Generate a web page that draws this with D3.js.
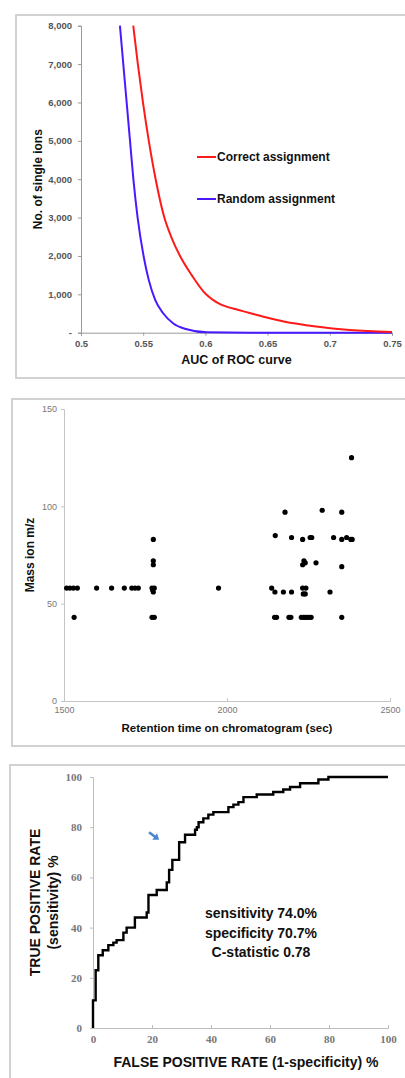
<!DOCTYPE html>
<html>
<head>
<meta charset="utf-8">
<script src="https://cdn.jsdelivr.net/npm/d3@7"></script>
<style>
  body { margin: 0; background: #fff; }
  svg { display: block; }
  .frame { fill: none; stroke: #d2d2d2; stroke-width: 2; }
  .axis1 path, .axis1 line { stroke: #9a9a9a; }
  .axis1 text { fill: #555; font: bold 9.5px "Liberation Sans", Arial, sans-serif; }
  .axis2 path, .axis2 line { stroke: #c4c4c4; }
  .axis2 text { fill: #777; font: 9px "Liberation Sans", Arial, sans-serif; }
  .axis3 path, .axis3 line { stroke: #bdbdbd; }
  .axis3 text { fill: #777; font: bold 11px "Liberation Serif", "Times New Roman", serif; }
  .title { font-family: "Liberation Sans", Arial, sans-serif; font-weight: bold; fill: #111; }
</style>
</head>
<body>
<div id="chart"></div>
<script>
// ---- panel 1: number of single ions vs AUC ----
var correctAuc = [0.5420, 0.5457, 0.5498, 0.5545, 0.5600, 0.5670, 0.5725, 0.5796, 0.5890, 0.6005, 0.6055, 0.6110, 0.6170, 0.6260, 0.6370, 0.6460, 0.6630, 0.6890, 0.7160, 0.75];
var correctIons = [8000, 7000, 6000, 5000, 4000, 3000, 2500, 2000, 1500, 1000, 870, 760, 680, 600, 500, 420, 290, 160, 70, 15];
var randomAuc = [0.5313, 0.5340, 0.5367, 0.5394, 0.5421, 0.5455, 0.5503, 0.5545, 0.5597, 0.5662, 0.5742, 0.5850, 0.6010, 0.65, 0.75];
var randomIons = [8000, 7000, 6000, 5000, 4000, 3000, 2000, 1370, 850, 500, 240, 90, 10, 0, 0];
var aucTicks = [0.5, 0.55, 0.6, 0.65, 0.7, 0.75];
var ionTicks = [0, 1000, 2000, 3000, 4000, 5000, 6000, 7000, 8000];
var legendNames = ["Correct assignment", "Random assignment"];
var legendColours = ["#ff1a1a", "#4a1aff"];

// ---- panel 2: mass ion vs retention time ----
var retention = [1508, 1518, 1529, 1541, 1531, 1600, 1646, 1685, 1708, 1718, 1728,
  1770, 1777, 1774, 1772, 1770, 1777, 1774, 1774, 1774, 1974,
  2137, 2147, 2173, 2198, 2146, 2152, 2190, 2196, 2148, 2178, 2198,
  2228, 2235, 2240, 2246, 2252, 2258, 2232, 2242, 2234, 2240,
  2232, 2236, 2240, 2232, 2273, 2255, 2260, 2292, 2316, 2327,
  2352, 2352, 2352, 2352, 2367, 2380, 2384, 2382];
var massIon = [58, 58, 58, 58, 43, 58, 58, 58, 58, 58, 58,
  58, 58, 56, 57, 43, 43, 70, 72, 83, 58,
  58, 56, 56, 56, 43, 43, 43, 43, 85, 97, 84,
  43, 43, 43, 43, 43, 43, 58, 58, 55, 55,
  70, 72, 71, 83, 71, 84, 84, 98, 56, 84,
  97, 83, 69, 43, 84, 83, 83, 125];
var timeTicks = [1500, 2000, 2500];
var massTicks = [0, 50, 100, 150];

// ---- panel 3: ROC curve ----
var fpr = [0, 0, 0.9, 1.8, 3.3, 5.2, 6.9, 8.0, 10.3, 11.4, 14.2, 18.2, 18.8, 21.6, 25.0, 25.8, 26.9, 29.2, 31.2, 34.6, 35.2, 35.8, 37.4, 39.1, 40.8, 45.9, 47.6, 49.3, 51.0, 55.5, 61.1, 64.5, 66.8, 70.2, 76.4, 79.8, 100];
var tpr = [0, 11, 23, 29, 31, 33, 34, 35, 38, 40, 44, 46, 53, 55, 58, 63, 67, 74, 77, 79, 80, 82, 83.5, 85, 86, 88, 89, 90, 92, 93, 94, 95, 96, 97.5, 99, 100, 100];
var rateTicks = [0, 20, 40, 60, 80, 100];
var statLines = ["sensitivity 74.0%", "specificity 70.7%", "C-statistic 0.78"];
var arrowFrom = [19.0, 78.0];
var arrowTo = [22.4, 75.0];

var width = 405, height = 1078;

var svg = d3.select("#chart")
    .append("svg")
    .attr("width", width)
    .attr("height", height);

// panel frames
svg.append("rect").attr("class", "frame").attr("x", 16).attr("y", 15).attr("width", 400).attr("height", 363);
svg.append("rect").attr("class", "frame").attr("x", 12).attr("y", 399).attr("width", 404).attr("height", 347);
svg.append("rect").attr("class", "frame").attr("x", 10).attr("y", 765).attr("width", 406).attr("height", 320);

// ================= panel 1 =================
var x1 = d3.scaleLinear().domain([0.5, 0.75]).range([81, 392]);
var y1 = d3.scaleLinear().domain([0, 8000]).range([332.7, 25.7]);

svg.append("g")
    .attr("class", "axis1")
    .attr("transform", "translate(0," + y1(0) + ")")
    .call(d3.axisBottom(x1).tickValues(aucTicks).tickSize(3).tickPadding(5)
        .tickFormat(function(d) { return d3.format("")(+d.toFixed(2)); }));

svg.append("g")
    .attr("class", "axis1")
    .attr("transform", "translate(" + x1(0.5) + ",0)")
    .call(d3.axisLeft(y1).tickValues(ionTicks).tickSize(3).tickPadding(6)
        .tickFormat(function(d) { return d === 0 ? "-" : d3.format(",")(d); }));

var line1 = d3.line()
    .curve(d3.curveMonotoneX)
    .x(function(d) { return x1(d[0]); })
    .y(function(d) { return y1(d[1]); });

svg.append("path")
    .datum(randomAuc.map(function(a, i) { return [a, randomIons[i]]; }))
    .attr("d", line1)
    .attr("fill", "none")
    .attr("stroke", legendColours[1])
    .attr("stroke-width", 2);

svg.append("path")
    .datum(correctAuc.map(function(a, i) { return [a, correctIons[i]]; }))
    .attr("d", line1)
    .attr("fill", "none")
    .attr("stroke", legendColours[0])
    .attr("stroke-width", 2);

legendNames.forEach(function(name, i) {
    var ly = 157 + i * 42;
    svg.append("line")
        .attr("x1", 197).attr("x2", 216)
        .attr("y1", ly).attr("y2", ly)
        .attr("stroke", legendColours[i])
        .attr("stroke-width", 2);
    svg.append("text")
        .attr("class", "title")
        .attr("x", 217)
        .attr("y", ly)
        .attr("dy", "0.35em")
        .style("font-size", "12px")
        .text(name);
});

svg.append("text")
    .attr("class", "title")
    .attr("x", 236.5)
    .attr("y", 364)
    .attr("text-anchor", "middle")
    .style("font-size", "12.5px")
    .text("AUC of ROC curve");

svg.append("text")
    .attr("class", "title")
    .attr("transform", "translate(42," + ((y1(0) + y1(8000)) / 2) + ") rotate(-90)")
    .attr("text-anchor", "middle")
    .style("font-size", "12px")
    .text("No. of single ions");

// ================= panel 2 =================
var x2 = d3.scaleLinear().domain([1500, 2500]).range([64, 390]);
var y2 = d3.scaleLinear().domain([0, 150]).range([701, 409]);

svg.append("g")
    .attr("class", "axis2")
    .attr("transform", "translate(0," + y2(0) + ")")
    .call(d3.axisBottom(x2).tickValues(timeTicks).tickSize(-3).tickPadding(6).tickFormat(d3.format("d")));

svg.append("g")
    .attr("class", "axis2")
    .attr("transform", "translate(" + x2(1500) + ",0)")
    .call(d3.axisLeft(y2).tickValues(massTicks).tickSize(3).tickPadding(4).tickFormat(d3.format("d")));

svg.append("g")
    .selectAll("circle")
    .data(retention.map(function(t, i) { return [t, massIon[i]]; }))
    .enter()
    .append("circle")
    .attr("cx", function(d) { return x2(d[0]); })
    .attr("cy", function(d) { return y2(d[1]); })
    .attr("r", 2.6)
    .attr("fill", "#000");

svg.append("text")
    .attr("class", "title")
    .attr("x", 227)
    .attr("y", 732)
    .attr("text-anchor", "middle")
    .style("font-size", "11.5px")
    .text("Retention time on chromatogram (sec)");

svg.append("text")
    .attr("class", "title")
    .attr("transform", "translate(34," + ((y2(0) + y2(150)) / 2) + ") rotate(-90)")
    .attr("text-anchor", "middle")
    .style("font-size", "12px")
    .text("Mass ion m/z");

// ================= panel 3 =================
var x3 = d3.scaleLinear().domain([0, 100]).range([93, 388]);
var y3 = d3.scaleLinear().domain([0, 100]).range([1028, 777]);

svg.append("g")
    .attr("class", "axis3")
    .attr("transform", "translate(0," + y3(0) + ")")
    .call(d3.axisBottom(x3).tickValues(rateTicks).tickSize(-3).tickPadding(7));

svg.append("g")
    .attr("class", "axis3")
    .attr("transform", "translate(" + x3(0) + ",0)")
    .call(d3.axisLeft(y3).tickValues(rateTicks).tickSize(3).tickPadding(8));

var line3 = d3.line()
    .curve(d3.curveStepAfter)
    .x(function(d) { return x3(d[0]); })
    .y(function(d) { return y3(d[1]); });

svg.append("path")
    .datum(fpr.map(function(f, i) { return [f, tpr[i]]; }))
    .attr("d", line3)
    .attr("fill", "none")
    .attr("stroke", "#000")
    .attr("stroke-width", 2.4);

// blue arrow
var ax0 = x3(arrowFrom[0]), ay0 = y3(arrowFrom[1]);
var ax1 = x3(arrowTo[0]), ay1 = y3(arrowTo[1]);
var ang = Math.atan2(ay1 - ay0, ax1 - ax0);
svg.append("line")
    .attr("x1", ax0).attr("y1", ay0)
    .attr("x2", ax1 - 3 * Math.cos(ang)).attr("y2", ay1 - 3 * Math.sin(ang))
    .attr("stroke", "#4a86d4")
    .attr("stroke-width", 2.6);
svg.append("path")
    .attr("d", "M0,0 L-5.5,-4 L-5.5,4 Z")
    .attr("transform", "translate(" + ax1 + "," + ay1 + ") rotate(" + (ang * 180 / Math.PI) + ")")
    .attr("fill", "#4a86d4");

svg.append("g")
    .selectAll("text")
    .data(statLines)
    .enter()
    .append("text")
    .attr("class", "title")
    .attr("x", 261)
    .attr("y", function(d, i) { return 918 + i * 19.5; })
    .attr("text-anchor", "middle")
    .style("font-size", "14px")
    .text(function(d) { return d; });

svg.append("text")
    .attr("class", "title")
    .attr("x", 246)
    .attr("y", 1067)
    .attr("text-anchor", "middle")
    .style("font-size", "14px")
    .text("FALSE POSITIVE RATE (1-specificity) %");

svg.append("text")
    .attr("class", "title")
    .attr("transform", "translate(40," + ((y3(0) + y3(100)) / 2) + ") rotate(-90)")
    .attr("text-anchor", "middle")
    .style("font-size", "14px")
    .text("TRUE POSITIVE RATE");

svg.append("text")
    .attr("class", "title")
    .attr("transform", "translate(58," + ((y3(0) + y3(100)) / 2) + ") rotate(-90)")
    .attr("text-anchor", "middle")
    .style("font-size", "14px")
    .text("(sensitivity) %");
</script>
</body>
</html>
